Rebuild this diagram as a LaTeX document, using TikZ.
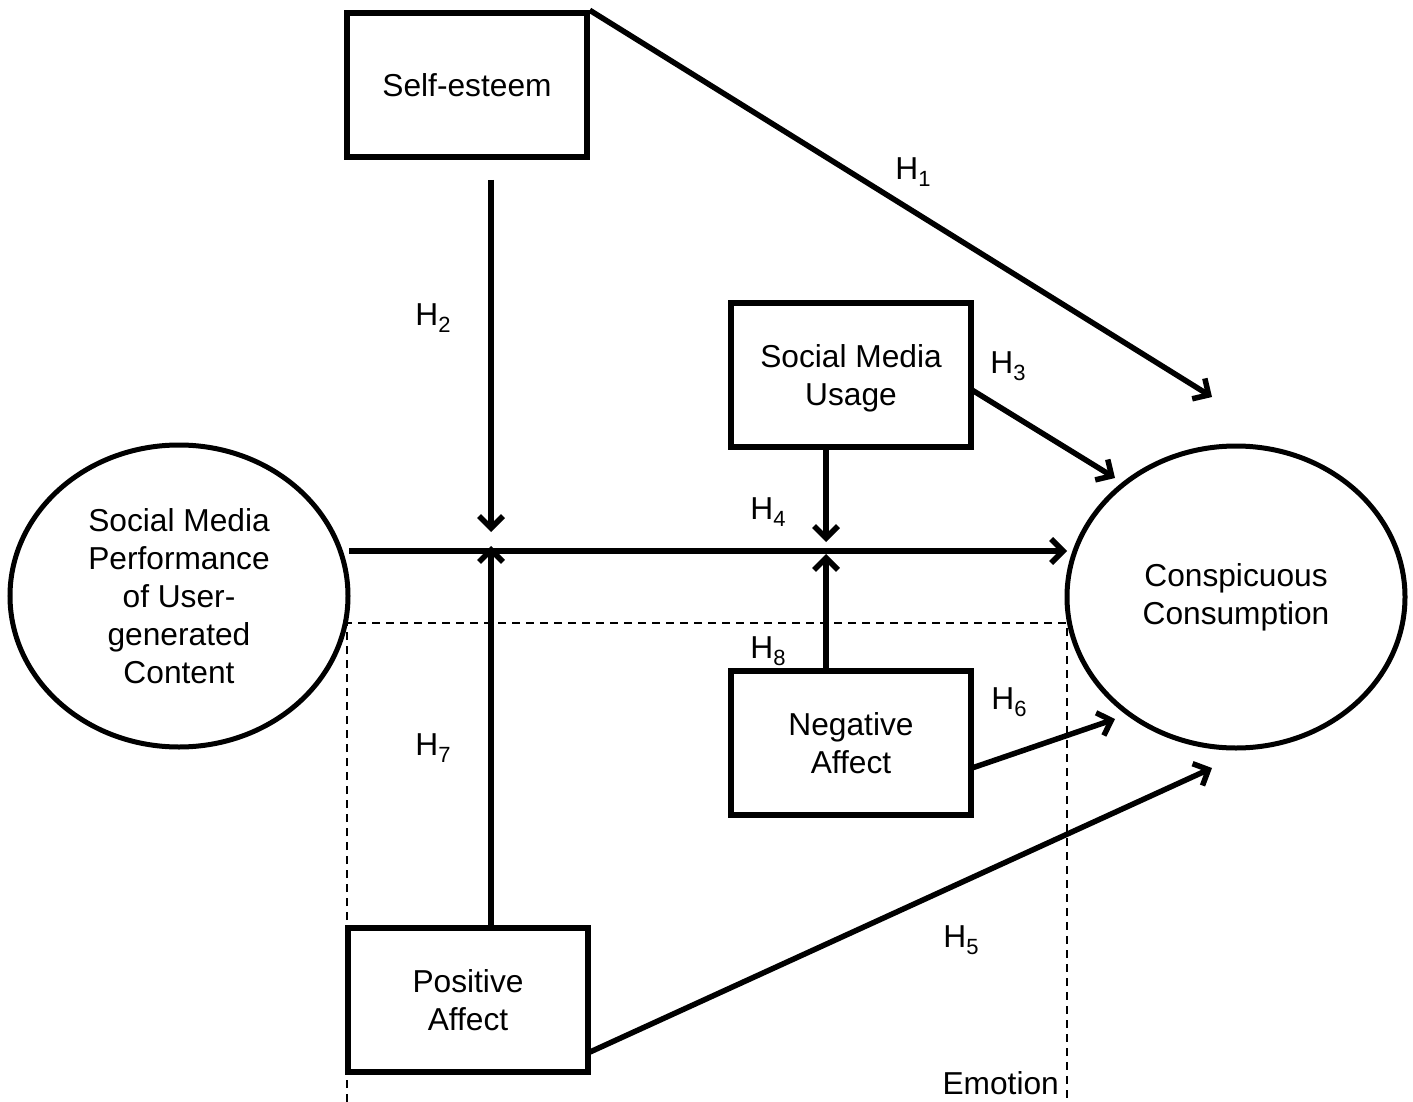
\documentclass[tikz,border=0pt]{standalone}
\usepackage{fontspec}
\setmainfont{Liberation Sans}
\usetikzlibrary{arrows.meta,shapes.geometric}
\newcommand\hyp[1]{H\raisebox{-0.22em}{\fontsize{22}{22}\selectfont #1}}
\begin{document}
\begin{tikzpicture}[x=1pt,y=-1pt,
  every node/.style={font=\fontsize{31.7}{38}\selectfont},
  boxnode/.style={draw,line width=5.5pt,minimum width=240pt,minimum height=144pt,align=center,inner sep=0pt},
  ellnode/.style={draw,ellipse,line width=5pt,minimum width=338pt,minimum height=302pt,align=center,inner sep=0pt},
  arr/.style={line width=5.5pt,-{Straight Barb[length=12pt,width=24pt,line width=5.5pt]}},
  hlabel/.style={inner sep=0pt},
  emobox/.style={line width=2pt,dash pattern=on 8pt off 6pt}
]
\useasboundingbox (0,0) rectangle (1413,1102);
% nodes
\node[boxnode] (se) at (467,85) {Self-esteem};
\node[boxnode,text depth=0pt] (smu) at (851,375) {Social Media\\Usage};
\node[boxnode,text depth=0pt] (na) at (851,743) {Negative\\Affect};
\node[boxnode,text depth=0pt] (pa) at (468,1000) {Positive\\Affect};
\node[ellnode] (smp) at (179,596) {Social Media\\Performance\\of User-\\generated\\Content};
\node[ellnode] (cc) at (1236,597) {Conspicuous\\Consumption};
% coordinates
\coordinate (h1end) at (1212,397);
\coordinate (h2start) at (491,180);
\coordinate (h2end) at (491,532);
\coordinate (hstart) at (349,551);
\coordinate (hend) at (1067,551);
\coordinate (h7end) at (491,546);
\coordinate (h4end) at (826,542);
\coordinate (h8end) at (826,554);
\coordinate (h3start) at (972,390);
\coordinate (h3end) at (1115,478);
\coordinate (h6start) at (972,768);
\coordinate (h6end) at (1115,719);
\coordinate (h5start) at (590,1052);
\coordinate (h5end) at (1212,768);
\coordinate (emotl) at (347,623);
\coordinate (emotr) at (1067,623);
% emotion dashed frame
\draw[emobox] (emotl |- 0,1102) -- (emotl) -- (emotr) -- (emotr |- 0,1102);
\node[hlabel,anchor=base east] (emo) at (1059,1094) {Emotion};
% connectors
\draw[arr] (se.north east) -- (h1end);
\draw[arr] (h2start) -- (h2end);
\draw[arr] (hstart) -- (hend);
\draw[arr] (pa.north -| h7end) -- (h7end);
\draw[arr] (smu.south -| h4end) -- (h4end);
\draw[arr] (na.north -| h8end) -- (h8end);
\draw[arr] (h3start) -- (h3end);
\draw[arr] (h6start) -- (h6end);
\draw[arr] (h5start) -- (h5end);
% labels
\node[hlabel] (l1) at (913,172) {\hyp{1}};
\node[hlabel] (l2) at (433,318) {\hyp{2}};
\node[hlabel] (l3) at (1008,366) {\hyp{3}};
\node[hlabel] (l4) at (768,512) {\hyp{4}};
\node[hlabel] (l8) at (768,651) {\hyp{8}};
\node[hlabel] (l6) at (1009,702) {\hyp{6}};
\node[hlabel] (l7) at (433,748) {\hyp{7}};
\node[hlabel] (l5) at (961,940) {\hyp{5}};
\end{tikzpicture}
\end{document}
